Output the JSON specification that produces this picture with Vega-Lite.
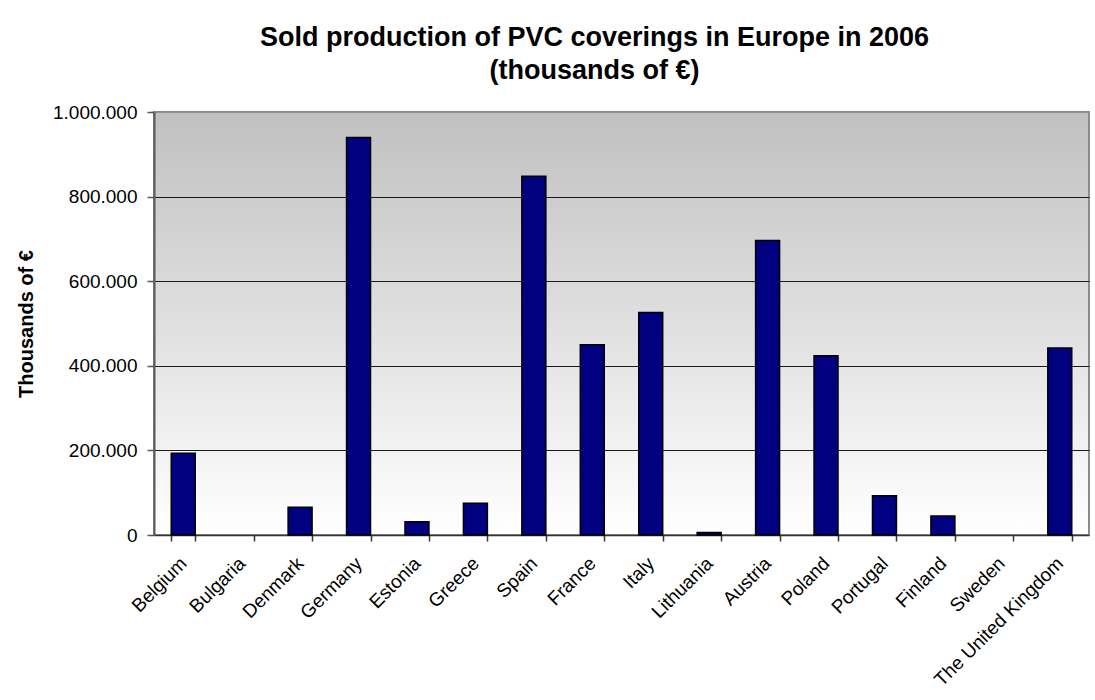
{
  "$schema": "https://vega.github.io/schema/vega-lite/v6.json",
  "autosize": "none",
  "width": 935,
  "height": 423,
  "padding": {"left": 154, "top": 112, "right": 6, "bottom": 165},
  "background": "#ffffff",
  "title": {
    "text": ["Sold production of PVC coverings in Europe in 2006", "(thousands of €)"],
    "font": "Liberation Sans",
    "fontSize": 27,
    "fontWeight": "bold",
    "color": "#000000",
    "lineHeight": 33,
    "anchor": "middle",
    "frame": "group",
    "dx": -27,
    "offset": 18
  },
  "data": {
    "values": [
      {"country": "Belgium", "value": 193000},
      {"country": "Bulgaria", "value": 0},
      {"country": "Denmark", "value": 65500},
      {"country": "Germany", "value": 940000},
      {"country": "Estonia", "value": 31500},
      {"country": "Greece", "value": 75000},
      {"country": "Spain", "value": 848000},
      {"country": "France", "value": 450000},
      {"country": "Italy", "value": 526000},
      {"country": "Lithuania", "value": 6000},
      {"country": "Austria", "value": 696000},
      {"country": "Poland", "value": 424000},
      {"country": "Portugal", "value": 93000},
      {"country": "Finland", "value": 45000},
      {"country": "Sweden", "value": 0},
      {"country": "The United Kingdom", "value": 442000}
    ]
  },
  "mark": {"type": "bar", "fill": "#000080", "stroke": "#000000", "strokeWidth": 1.5},
  "encoding": {
    "x": {
      "field": "country",
      "type": "nominal",
      "sort": null,
      "scale": {"paddingInner": 0.59, "paddingOuter": 0.295},
      "axis": {
        "title": null,
        "labelAngle": -45,
        "labelAlign": "right",
        "labelBaseline": "middle",
        "labelFont": "Liberation Sans",
        "labelFontSize": 19,
        "labelColor": "#000000",
        "labelPadding": 19,
        "tickBand": "extent",
        "tickSize": 6,
        "tickColor": "#333333",
        "tickWidth": 1.5,
        "domainColor": "#333333",
        "domainWidth": 1.5,
        "grid": false
      }
    },
    "y": {
      "field": "value",
      "type": "quantitative",
      "scale": {"domain": [0, 1000000], "nice": false},
      "axis": {
        "title": "Thousands of €",
        "titleFont": "Liberation Sans",
        "titleFontSize": 20,
        "titleFontWeight": "bold",
        "titleColor": "#000000",
        "titlePadding": 16,
        "values": [0, 200000, 400000, 600000, 800000, 1000000],
        "labelExpr": "replace(format(datum.value, ','), regexp(',', 'g'), '.')",
        "labelFont": "Liberation Sans",
        "labelFontSize": 19,
        "labelColor": "#000000",
        "labelPadding": 10,
        "tickSize": 7,
        "tickColor": "#555555",
        "tickWidth": 1.5,
        "domainColor": "#5a5a5a",
        "domainWidth": 2,
        "grid": true,
        "gridColor": {"condition": {"test": "datum.value == 1000000 || datum.value == 0", "value": "#909090"}, "value": "#1a1a1a"},
        "gridWidth": 1,
        "gridOpacity": 1
      }
    },
    "strokeOpacity": {"condition": {"test": "datum.value == 0", "value": 0}, "value": 1}
  },
  "config": {
    "view": {
      "stroke": "#8c8c8c",
      "strokeWidth": 2,
      "fill": {
        "gradient": "linear",
        "x1": 0, "y1": 0, "x2": 0, "y2": 1,
        "stops": [
          {"offset": 0, "color": "#c0c0c0"},
          {"offset": 1, "color": "#ffffff"}
        ]
      }
    }
  }
}
